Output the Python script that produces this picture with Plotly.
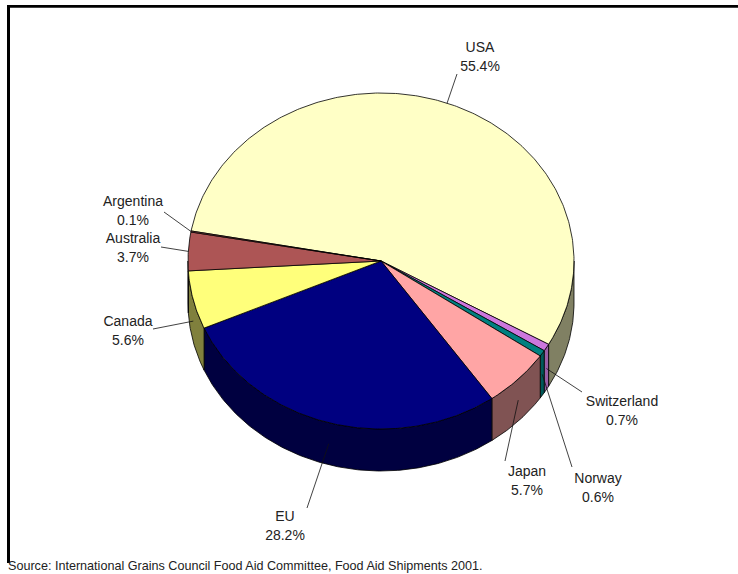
import math
import plotly.graph_objects as go

# Data (clockwise from the USA slice)
categories = ["USA", "Switzerland", "Norway", "Japan", "EU", "Canada", "Australia", "Argentina"]
shares = [55.4, 0.7, 0.6, 5.7, 28.2, 5.6, 3.7, 0.1]
source_note = "Source: International Grains Council Food Aid Committee, Food Aid Shipments 2001."

# Styles
top_colors = ["#FFFFC6", "#CC77DD", "#008080", "#FFA5A5", "#000080", "#FFFF7B", "#AD5555", "#AD5555"]
side_colors = ["#808063", "#9A5FA8", "#005A5A", "#805353", "#000040", "#80803D", "#562A2A", "#562A2A"]

# Layout geometry (pixels)
W, H = 738, 574
CX, CY, RX, RY, DEPTH = 381, 261, 193, 168, 42
FIRST_ANGLE = 280.3
label_centres = {
    "USA": (480, 48), "Switzerland": (622, 402), "Norway": (598, 479), "Japan": (527, 472),
    "EU": (285, 517), "Canada": (128, 322), "Australia": (133, 239), "Argentina": (133, 202),
}
leader_ends = {
    "USA": (457, 74), "Switzerland": (582, 392), "Norway": (572, 467), "Japan": (505, 461),
    "EU": (307, 508), "Canada": (153, 329), "Australia": (161, 247), "Argentina": (164, 212),
}
LINE_GAP = 19


def rim(deg, drop=0):
    a = math.radians(deg)
    return CX + RX * math.sin(a), CY - RY * math.cos(a) + drop


def arc(a0, a1, drop=0):
    n = max(2, int(abs(a1 - a0) * 1.5) + 1)
    return [rim(a0 + (a1 - a0) * i / (n - 1), drop) for i in range(n)]


fig = go.Figure()
spans = []
start = FIRST_ANGLE
for share in shares:
    end = start + share * 3.6
    spans.append((start, end))
    start = end


def add_poly(pts, fill, lw=1):
    fig.add_trace(go.Scatter(
        x=[p[0] for p in pts] + [pts[0][0]], y=[p[1] for p in pts] + [pts[0][1]],
        mode="lines", fill="toself", fillcolor=fill,
        line=dict(color="#000000", width=lw), hoverinfo="skip", showlegend=False))


# Side walls: only the front half of the rim (90..270 degrees, modulo 360) is visible
for (a0, a1), col in zip(spans, side_colors):
    for k in (0, 360):
        lo, hi = max(a0, 90 + k), min(a1, 270 + k)
        if hi > lo:
            add_poly(arc(lo, hi) + arc(hi, lo, DEPTH), col, 0.8)

# Top faces
for i in range(len(shares)):
    a0, a1 = spans[i]
    add_poly([(CX, CY)] + arc(a0, a1), top_colors[i], 0.8)

# Leader lines: from mid-slice on the rim (mid-wall where the wall is visible)
for (a0, a1), name in zip(spans, categories):
    mid = (a0 + a1) / 2
    drop = DEPTH / 2 if math.cos(math.radians(mid)) < 0 else 0
    px, py = rim(mid, drop)
    ex, ey = leader_ends[name]
    fig.add_trace(go.Scatter(x=[px, ex], y=[py, ey], mode="lines",
                             line=dict(color="#111111", width=0.8),
                             hoverinfo="skip", showlegend=False))

# Labels
FONT = "Liberation Sans, Arial, sans-serif"
fig.add_trace(go.Scatter(
    x=[label_centres[c][0] for c in categories] * 2,
    y=[label_centres[c][1] for c in categories] + [label_centres[c][1] + LINE_GAP for c in categories],
    mode="text",
    text=categories + [f"{s:.1f}%" for s in shares],
    textposition="middle center",
    textfont=dict(family=FONT, size=14, color="#222222"),
    hoverinfo="skip", showlegend=False))

fig.add_annotation(x=6, y=566, xref="x", yref="y", text=source_note, showarrow=False,
                   xanchor="left", yanchor="middle",
                   font=dict(family=FONT, size=12.6, color="#222222"))

# Chart-area frame (top and left edges visible)
shapes = [
    dict(type="rect", xref="x", yref="y", x0=7, x1=738, y0=5, y1=7.7,
         fillcolor="#000000", line=dict(width=0), layer="below"),
    dict(type="rect", xref="x", yref="y", x0=7, x1=10, y0=5, y1=563,
         fillcolor="#000000", line=dict(width=0), layer="below"),
]

fig.update_layout(
    width=W, height=H, margin=dict(l=0, r=0, t=0, b=0), autosize=False,
    paper_bgcolor="#FFFFFF", plot_bgcolor="#FFFFFF", shapes=shapes,
    xaxis=dict(range=[0, W], visible=False, fixedrange=True),
    yaxis=dict(range=[H, 0], visible=False, fixedrange=True),
)
fig.write_html("out.html", config={"displayModeBar": False},
               post_script="document.body.style.margin='0';document.documentElement.style.overflow='hidden';")
